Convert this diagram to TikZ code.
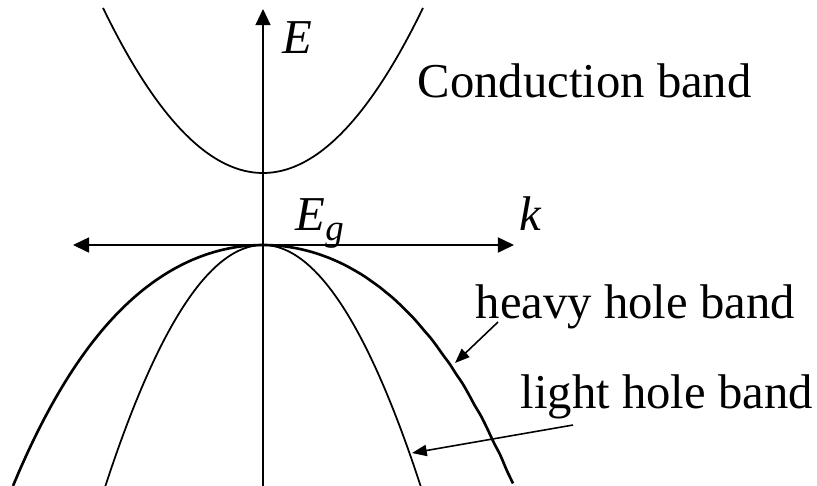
\documentclass[tikz,border=0pt]{standalone}
\usepackage{fontspec}
\setmainfont{Liberation Serif}
\usetikzlibrary{arrows.meta}
\tikzset{
    % axes with filled tips
    axisarrow/.style={
        line width=0.5pt,
        black,
        >={Triangle[length=4.6pt, width=4.3pt]}
    },
    bandline/.style={
        line width=0.5pt,
        black,
        smooth,
        samples=80
    },
    labelarrow/.style={
        line width=0.45pt,
        black,
        ->,
        >={Triangle[length=4.2pt, width=3.2pt]}
    },
    bandlabel/.style={
        inner sep=0pt,
        anchor=base west,
        font=\fontsize{13.85}{16}\selectfont
    }
}
\begin{document}
\begin{tikzpicture}[x=0.1cm,y=0.1cm]
   \useasboundingbox (-26.3,-24.0) rectangle (55.4,24.5);
   \clip (-26.3,-24.0) rectangle (55.4,24.5);
   \path
    (-19.0,0) coordinate (kl)
    (25.1,0)  coordinate (kr)
    (0,-24.5) coordinate (eb)
    (0,23.6)  coordinate (et)
    (23.5,-7.7) coordinate (h1)
    (19.2,-11.8) coordinate (h2)
    (31.0,-18.0) coordinate (l1)
    (14.9,-20.8) coordinate (l2)
    ;

    % 坐标轴
    \draw[axisarrow,<->] (kl) -- (kr);
    \draw[axisarrow,line width=0.35pt,->] (eb) -- (et);

    % 导带
    \draw[bandline] plot[domain=-16:16] (\x,{7.2+0.0645*\x*\x});
    % 重空穴带
    \draw[bandline,line width=0.75pt] plot[domain=-25:25] (\x,{-(0.029+0.0000163*\x*\x)*\x*\x});
    % 轻空穴带
    \draw[bandline] plot[domain=-16:16] (\x,{-0.097*\x*\x});

    %label
    \node[bandlabel] (elab) at (1.9,19.2) {\textit{E}};
    \node[bandlabel] (eglab) at (3.2,1.5) {\textit{E}\raisebox{-0.45ex}{\fontsize{10.5}{12}\selectfont\textit{g}}};
    \node[bandlabel] (klab) at (25.6,1.5) {\textit{k}};
    \node[bandlabel] (cb) at (15.4,14.8) {Conduction band};
    \node[bandlabel] (hh) at (21.2,-7.3) {heavy hole band};
    \node[bandlabel] (lh) at (25.7,-16.3) {light hole band};

    % 指示箭头
    \draw[labelarrow] (h1) -- (h2);
    \draw[labelarrow] (l1) -- (l2);
\end{tikzpicture}
\end{document}
